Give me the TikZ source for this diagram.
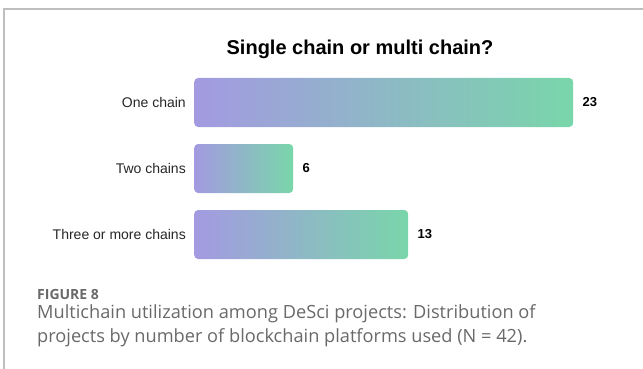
\documentclass[tikz,border=0pt]{standalone}
\usepackage{fontspec}
\setmainfont{Liberation Sans}
\newfontfamily\captionfont{Open Sans}
\definecolor{BarStart}{RGB}{163,154,225}
\definecolor{BarEnd}{RGB}{121,214,170}
\definecolor{FrameGray}{RGB}{190,190,190}
\definecolor{CaptionGray}{RGB}{105,105,105}
\usetikzlibrary{positioning}

\begin{document}
\begin{tikzpicture}[
        x=1pt, y=-1pt,
        bar/.style={anchor=west, minimum height=49pt, inner sep=0pt, rounded corners=4pt,
                    left color=BarStart, right color=BarEnd},
        cat/.style={font=\fontsize{14}{16}\selectfont, text=black!85, inner sep=0pt},
        val/.style={font=\fontsize{13}{15}\selectfont\bfseries, inner sep=0pt},
        captext/.style={anchor=west, inner sep=0pt, text=CaptionGray}
    ]
        \useasboundingbox (0,0) rectangle (643,369);
        % frame
        \draw[FrameGray, line width=1.2pt] (4,369) -- (4,9) -- (643,9);
        \node[font=\fontsize{20}{23}\selectfont\bfseries] (title) at (360,49) {Single chain or multi chain?};
        % bars
        \node[bar, minimum width=379pt] (one) at (194,102.5) {};
        \node[bar, minimum width=99pt] (two) at (194,168.5) {};
        \node[bar, minimum width=214pt] (three) at (194,234.5) {};
        \node[cat, left=8pt of one.west] (lone) {One chain};
        \node[cat, left=8pt of two.west] (ltwo) {Two chains};
        \node[cat, left=8pt of three.west] (lthree) {Three or more chains};
        \node[val, right=9pt of one.east] (vone) {23};
        \node[val, right=9pt of two.east] (vtwo) {6};
        \node[val, right=9pt of three.east] (vthree) {13};
        % caption
        \node[captext, font=\captionfont\fontsize{14}{16}\selectfont\bfseries] (fig) at (37,294) {FIGURE 8};
        \node[captext, font=\captionfont\fontsize{18.2}{22}\selectfont] (capa) at (37,314) {Multichain utilization among DeSci projects: Distribution of};
        \node[captext, font=\captionfont\fontsize{18.2}{22}\selectfont] (capb) at (37,338) {projects by number of blockchain platforms used (N = 42).};
    \end{tikzpicture}
\end{document}
